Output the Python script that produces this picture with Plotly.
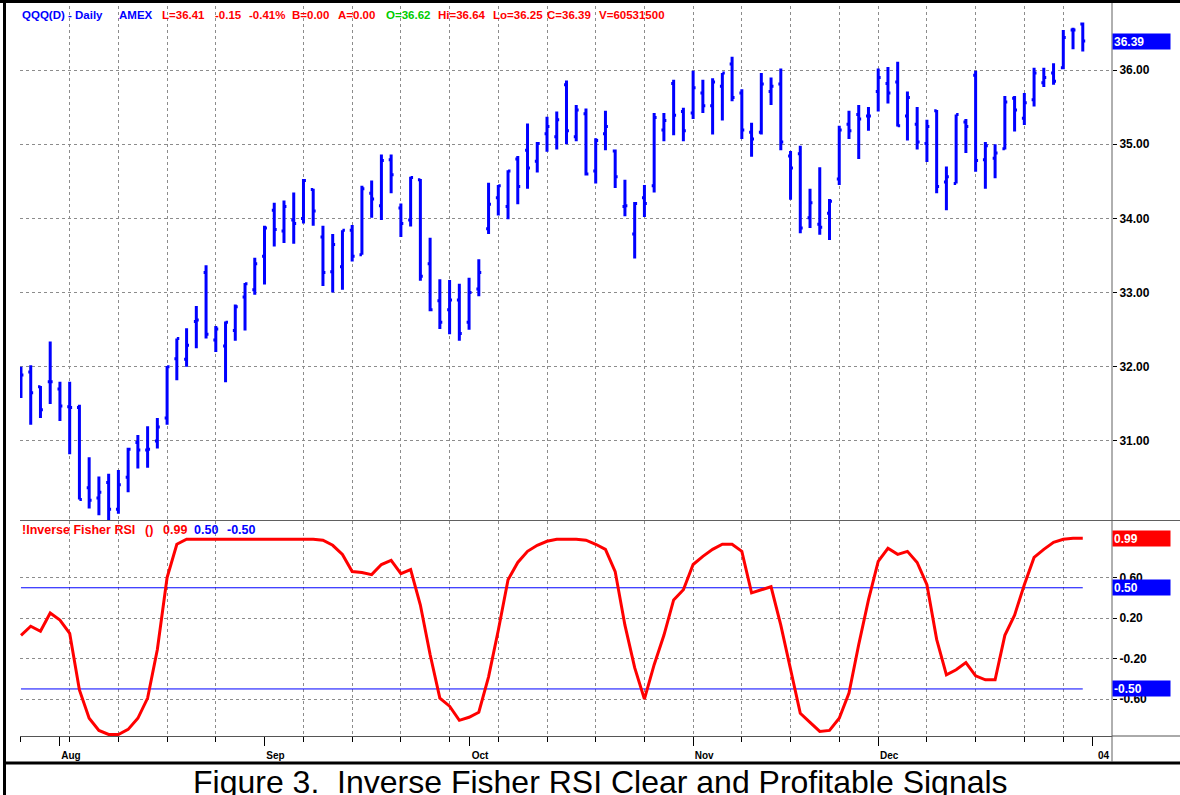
import plotly.graph_objects as go
import pandas as pd

# ---------------- data ----------------
holidays = ["2003-09-01", "2003-11-27", "2003-12-25"]
dates = [d.strftime("%Y-%m-%d") for d in pd.bdate_range("2003-07-28", "2003-12-31")
         if d.strftime("%Y-%m-%d") not in holidays]

opens = [31.95, 31.93, 31.73, 31.80, 31.70, 31.46, 31.45, 30.37, 30.23, 30.44,
         30.08, 30.51, 30.98, 30.88, 31.00, 31.31, 32.11, 32.10, 32.61, 33.27,
         32.36, 32.28, 32.49, 32.94, 33.04, 33.49, 34.11, 33.83, 33.98, 34.00,
         34.39, 33.75, 33.28, 33.35, 33.84, 33.51, 34.34, 34.17, 34.79, 34.14,
         33.98, 34.52, 33.39, 32.89, 32.77, 32.90, 32.60, 33.05, 33.86, 34.28,
         34.16, 34.80, 34.92, 34.77, 35.14, 35.10, 35.80, 35.10, 35.41, 34.64,
         35.14, 34.91, 34.16, 33.79, 34.28, 34.44, 35.19, 35.82, 35.44, 35.42,
         35.69, 35.52, 35.78, 36.08, 35.69, 35.16, 35.16, 35.71, 35.81, 34.84,
         34.87, 34.01, 33.92, 34.07, 34.53, 35.27, 35.40, 35.38, 35.71, 35.82,
         35.84, 35.38, 35.27, 35.01, 35.45, 34.49, 34.47, 35.30, 35.93, 34.79,
         34.81, 34.94, 35.62, 35.35, 35.60, 35.83, 35.96, 36.03, 36.54, 36.62]
highs = [32.00, 32.02, 31.74, 32.34, 31.80, 31.80, 31.49, 30.78, 30.52, 30.56,
         30.61, 30.91, 31.08, 31.20, 31.31, 32.01, 32.38, 32.52, 32.82, 33.37,
         32.55, 32.61, 32.84, 33.13, 33.47, 33.90, 34.21, 34.24, 34.35, 34.53,
         34.40, 33.90, 33.79, 33.84, 33.91, 34.44, 34.51, 34.86, 34.86, 34.20,
         34.56, 34.53, 33.74, 33.18, 33.17, 33.12, 33.20, 33.45, 34.48, 34.45,
         34.65, 34.84, 35.28, 35.03, 35.37, 35.44, 35.86, 35.53, 35.48, 35.08,
         35.45, 34.93, 34.52, 34.22, 34.45, 35.42, 35.42, 35.87, 35.49, 35.99,
         35.87, 35.89, 35.96, 36.18, 35.74, 35.29, 35.96, 35.90, 36.02, 34.91,
         34.98, 34.40, 34.69, 34.26, 35.25, 35.45, 35.53, 35.50, 36.02, 36.04,
         36.11, 35.71, 35.50, 35.33, 35.46, 34.70, 35.40, 35.34, 35.99, 35.03,
         35.00, 35.65, 35.65, 35.69, 36.03, 36.03, 36.09, 36.54, 36.57, 36.64]
lows = [31.58, 31.22, 31.31, 31.50, 31.27, 30.82, 30.21, 30.09, 30.00, 29.92,
        30.02, 30.31, 30.63, 30.64, 30.90, 31.22, 31.82, 32.00, 32.25, 32.38,
        32.20, 31.79, 32.35, 32.49, 32.97, 33.11, 33.62, 33.67, 33.66, 33.93,
        33.90, 33.09, 33.00, 33.04, 33.42, 33.51, 34.01, 33.98, 34.34, 33.75,
        33.89, 33.16, 32.75, 32.51, 32.44, 32.35, 32.50, 32.95, 33.79, 34.04,
        33.99, 34.19, 34.40, 34.62, 34.90, 34.93, 35.00, 35.04, 34.58, 34.47,
        34.92, 34.41, 34.03, 33.46, 34.02, 34.35, 35.04, 35.12, 35.04, 35.34,
        35.42, 35.13, 35.32, 35.58, 35.07, 34.83, 35.13, 35.53, 34.92, 34.25,
        33.80, 33.87, 33.78, 33.71, 34.45, 35.07, 34.80, 35.18, 35.44, 35.55,
        35.24, 35.05, 34.93, 34.76, 34.34, 34.11, 34.47, 34.88, 34.63, 34.40,
        34.54, 34.93, 35.17, 35.26, 35.51, 35.77, 35.80, 36.01, 36.28, 36.25]
closes = [31.89, 31.65, 31.42, 31.80, 31.47, 31.45, 30.21, 30.20, 30.31, 30.08,
          30.41, 30.89, 30.88, 30.89, 31.19, 32.00, 32.38, 32.29, 32.63, 32.44,
          32.51, 32.60, 32.81, 33.12, 33.39, 33.87, 33.85, 34.16, 33.93, 34.51,
          34.10, 33.27, 33.65, 33.84, 33.49, 34.40, 34.26, 34.78, 34.59, 33.93,
          34.55, 33.22, 32.77, 32.60, 32.90, 32.45, 33.00, 33.27, 34.19, 34.44,
          34.64, 34.43, 34.68, 35.01, 35.24, 35.33, 35.18, 35.46, 34.60, 35.05,
          35.24, 34.56, 34.17, 34.20, 34.20, 35.36, 35.32, 35.39, 35.18, 35.76,
          35.52, 35.84, 35.96, 35.63, 35.19, 35.07, 35.81, 35.78, 35.03, 34.68,
          33.87, 34.21, 33.88, 34.23, 35.19, 35.18, 35.34, 35.38, 35.90, 35.69,
          35.25, 35.63, 35.03, 35.24, 34.43, 34.56, 35.40, 35.24, 34.78, 34.98,
          34.88, 35.57, 35.46, 35.56, 35.96, 35.90, 35.85, 36.44, 36.54, 36.39]
rsi = [0.03, 0.12, 0.07, 0.25, 0.18, 0.05, -0.51, -0.79, -0.91, -0.95,
       -0.95, -0.90, -0.79, -0.59, -0.11, 0.60, 0.93, 0.98, 0.98, 0.98,
       0.98, 0.98, 0.98, 0.98, 0.98, 0.98, 0.98, 0.98, 0.98, 0.98,
       0.98, 0.97, 0.92, 0.83, 0.66, 0.65, 0.63, 0.73, 0.77, 0.64,
       0.68, 0.33, -0.16, -0.59, -0.67, -0.81, -0.78, -0.73, -0.38, 0.08,
       0.58, 0.75, 0.86, 0.92, 0.96, 0.98, 0.98, 0.98, 0.97, 0.93,
       0.88, 0.66, 0.13, -0.29, -0.60, -0.26, 0.03, 0.38, 0.48, 0.73,
       0.81, 0.88, 0.93, 0.93, 0.86, 0.45, 0.48, 0.51, 0.13, -0.31,
       -0.74, -0.83, -0.92, -0.91, -0.79, -0.54, -0.06, 0.38, 0.76, 0.89,
       0.83, 0.86, 0.75, 0.53, -0.01, -0.36, -0.31, -0.24, -0.37, -0.41,
       -0.41, 0.03, 0.23, 0.53, 0.80, 0.88, 0.95, 0.98, 0.99, 0.99]
upper_level = 0.50
lower_level = -0.50

price_ticks = [31, 32, 33, 34, 35, 36]
price_ticktext = ["31.00", "32.00", "33.00", "34.00", "35.00", "36.00"]
rsi_ticks = [-0.6, -0.2, 0.2, 0.6]
rsi_ticktext = ["-0.60", "-0.20", "0.20", "0.60"]
month_labels = ["Aug", "Sep", "Oct", "Nov", "Dec", "04"]

header_items = [("QQQ(D) - Daily", "#0000FF"), ("AMEX", "#0000FF"), ("L=36.41", "#FF0000"),
                ("-0.15", "#FF0000"), ("-0.41%", "#FF0000"), ("B=0.00", "#FF0000"),
                ("A=0.00", "#FF0000"), ("O=36.62", "#00CC00"), ("Hi=36.64", "#FF0000"),
                ("Lo=36.25", "#FF0000"), ("C=36.39", "#FF0000"), ("V=60531500", "#FF0000")]
header_x = [20, 117, 160, 213, 247, 290, 336, 384, 436, 491, 545, 597]
last_close_label = "36.39"
rsi_last_label = "0.99"
caption = "Figure 3.\u00a0 Inverse Fisher RSI Clear and Profitable Signals"

# ---------------- positions ----------------
xi = list(range(len(dates)))
month_pos = [i for i in range(1, len(dates)) if dates[i][5:7] != dates[i - 1][5:7]] + [len(dates)]
monday_pos = [i for i, d in enumerate(dates) if pd.Timestamp(d).weekday() == 0]

W, H = 1180, 795
L, R, T, B = 20, 68, 6, 59
PW, PH = W - L - R, H - T - B


def px(x):
    return (x - L) / PW


def py(y):
    return (H - B - y) / PH


FONT = "Arial, Liberation Sans, sans-serif"
GRID = "#8c8c8c"

fig = go.Figure()
fig.add_trace(go.Ohlc(x=xi, open=opens, high=highs, low=lows, close=closes,
                      hovertext=dates, xaxis="x", yaxis="y", tickwidth=0.25,
                      increasing=dict(line=dict(color="#0000FF", width=3)),
                      decreasing=dict(line=dict(color="#0000FF", width=3)),
                      showlegend=False))
fig.add_trace(go.Scatter(x=[xi[0], xi[-1]], y=[upper_level, upper_level], mode="lines",
                         line=dict(color="#0000FF", width=1), xaxis="x2", yaxis="y2",
                         showlegend=False, hoverinfo="skip"))
fig.add_trace(go.Scatter(x=[xi[0], xi[-1]], y=[lower_level, lower_level], mode="lines",
                         line=dict(color="#0000FF", width=1), xaxis="x2", yaxis="y2",
                         showlegend=False, hoverinfo="skip"))
fig.add_trace(go.Scatter(x=xi, y=rsi, mode="lines", line=dict(color="#FF0000", width=3),
                         xaxis="x2", yaxis="y2", hovertext=dates, showlegend=False))

xrange = [-0.1, 112.0]
top_lo = 520
fig.update_layout(
    width=W, height=H, margin=dict(l=L, r=R, t=T, b=B),
    paper_bgcolor="white", plot_bgcolor="white",
    font=dict(family=FONT, color="black"),
    xaxis=dict(domain=[0, 1], anchor="y", matches="x2", range=xrange,
               tickmode="array", tickvals=monday_pos, showticklabels=False, ticks="",
               showgrid=True, gridcolor=GRID, griddash="dot", gridwidth=1,
               zeroline=False, showline=False, rangeslider=dict(visible=False)),
    xaxis2=dict(domain=[0, 1], anchor="y2", range=xrange,
                tickmode="array", tickvals=month_pos, ticktext=month_labels,
                ticks="outside", ticklen=9, tickcolor="black", tickwidth=1,
                tickfont=dict(size=10, family=FONT, weight="bold", color="black"),
                ticklabelshift=11, ticklabelstandoff=1,
                showgrid=False, zeroline=False, showline=True, linecolor="#555555",
                minor=dict(tickmode="array", tickvals=monday_pos, ticks="outside", ticklen=5,
                           tickcolor="black", showgrid=True, gridcolor=GRID, griddash="dot"),
                rangeslider=dict(visible=False)),
    yaxis=dict(domain=[py(top_lo), 1], anchor="x", side="right",
               range=[29.935, 36.863], tickmode="array", tickvals=price_ticks,
               ticktext=price_ticktext, ticks="outside", ticklen=4, tickcolor="black",
               tickfont=dict(size=12, family=FONT, weight="bold", color="black"),
               showgrid=True, gridcolor=GRID, griddash="dot", zeroline=False, showline=False),
    yaxis2=dict(domain=[0, py(top_lo + 1)], anchor="x2", side="right",
                range=[-0.965, 1.16], tickmode="array", tickvals=rsi_ticks,
                ticktext=rsi_ticktext, ticks="outside", ticklen=4, tickcolor="black",
                tickfont=dict(size=12, family=FONT, weight="bold", color="black"),
                showgrid=True, gridcolor=GRID, griddash="dot", zeroline=False, showline=False),
)

shapes = []
# frame lines
shapes.append(dict(type="line", xref="paper", yref="paper", x0=px(0), x1=px(W), y0=py(1.5), y1=py(1.5),
                   line=dict(color="black", width=3)))
shapes.append(dict(type="line", xref="paper", yref="paper", x0=px(4.5), x1=px(4.5), y0=py(0), y1=py(H),
                   line=dict(color="black", width=3)))
shapes.append(dict(type="line", xref="paper", yref="paper", x0=px(3), x1=px(W), y0=py(763), y1=py(763),
                   line=dict(color="black", width=3)))
# right axis line
shapes.append(dict(type="line", xref="paper", yref="paper", x0=1, x1=1, y0=py(3), y1=py(762),
                   line=dict(color="#606060", width=1)))
# panel separator
shapes.append(dict(type="line", xref="paper", yref="paper", x0=0, x1=px(W), y0=py(520.5), y1=py(520.5),
                   line=dict(color="#606060", width=1)))
# bottom axis extension
shapes.append(dict(type="line", xref="paper", yref="paper", x0=1, x1=px(W), y0=0, y1=0,
                   line=dict(color="#555555", width=1)))
fig.update_layout(shapes=shapes)

ann = []
for (txt, col), xh in zip(header_items, header_x):
    ann.append(dict(text=txt, xref="paper", yref="paper", x=px(xh), y=py(15), xanchor="left",
                    yanchor="middle", showarrow=False,
                    font=dict(size=11.5, family=FONT, weight="bold", color=col)))
sub_items = [("!Inverse Fisher RSI", "#FF0000", 20), ("()", "#FF0000", 143), ("0.99", "#FF0000", 161),
             ("0.50", "#0000FF", 192), ("-0.50", "#0000FF", 225)]
for txt, col, xh in sub_items:
    ann.append(dict(text=txt, xref="paper", yref="paper", x=px(xh), y=py(530), xanchor="left",
                    yanchor="middle", showarrow=False,
                    font=dict(size=12.5, family=FONT, weight="bold", color=col)))
# value tags on right axis
tags = [(last_close_label, "y", closes[-1], "#0000FF"),
        (rsi_last_label, "y2", rsi[-1], "#FF0000"),
        ("0.50", "y2", upper_level, "#0000FF"),
        ("-0.50", "y2", lower_level, "#0000FF")]
for txt, yr, yv, col in tags:
    ann.append(dict(text=txt, xref="paper", yref=yr, x=1, y=yv, xanchor="left", yanchor="middle",
                    showarrow=False, bgcolor=col, width=55, height=13, align="left", borderpad=1,
                    font=dict(size=12, family=FONT, weight="bold", color="white")))
ann.append(dict(text=caption, xref="paper", yref="paper", x=px(600), y=py(782), xanchor="center",
                yanchor="middle", showarrow=False, font=dict(size=32, family=FONT, color="black")))
fig.update_layout(annotations=ann)

fig.write_html("out.html", config={"displayModeBar": False},
               post_script="document.body.style.margin='0';document.body.style.overflow='hidden';")
